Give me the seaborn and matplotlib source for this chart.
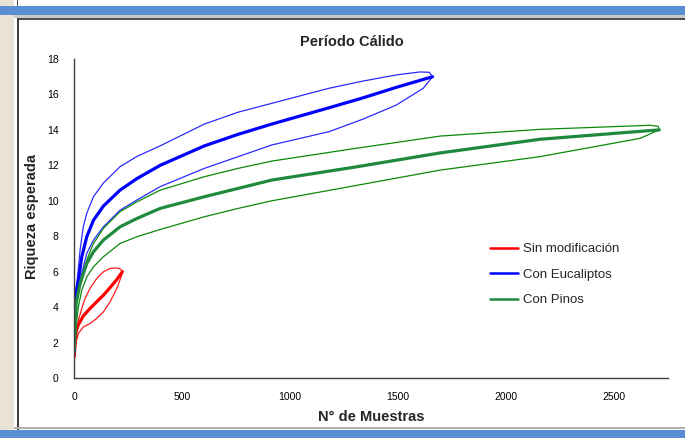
import matplotlib
matplotlib.use("Agg")
import matplotlib.pyplot as plt
from matplotlib.patches import Rectangle
from matplotlib.lines import Line2D
import pandas as pd
import seaborn as sns

# Sin modificación
sin_x = [1, 9, 20, 43, 74, 105, 136, 167, 198, 224]
sin_mean = [1.2, 2.6, 3.0, 3.5, 3.92, 4.3, 4.67, 5.1, 5.55, 6.0]
sin_up_x = [1, 5, 12, 20, 36, 51, 74, 105, 136, 167, 198, 215, 224]
sin_up = [1.3, 1.8, 2.6, 3.26, 3.92, 4.49, 5.05, 5.61, 5.99, 6.18, 6.21, 6.15, 6.0]
sin_lo_x = [1, 9, 20, 43, 74, 105, 136, 167, 198, 221, 224]
sin_lo = [1.2, 2.0, 2.5, 2.88, 3.07, 3.36, 3.73, 4.3, 5.05, 5.8, 6.0]

# Con Eucaliptos
euc_x = [1, 5, 20, 36, 59, 90, 136, 213, 291, 399, 604, 760, 916, 1181, 1336, 1492, 1660]
euc_mean = [1.5, 4.6, 5.5, 6.84, 7.97, 8.9, 9.7, 10.6, 11.25, 12.0, 13.1, 13.75, 14.33, 15.25, 15.8, 16.4, 17.0]
euc_up_x = [1, 9, 15, 28, 43, 59, 90, 136, 213, 291, 399, 604, 760, 916, 1181, 1336, 1492, 1601, 1645, 1660]
euc_up = [1.6, 4.8, 5.5, 7.2, 8.53, 9.29, 10.23, 11.0, 11.92, 12.5, 13.1, 14.33, 15.0, 15.5, 16.35, 16.75, 17.1, 17.27, 17.25, 17.0]
euc_lo_x = [1, 5, 15, 36, 59, 90, 136, 213, 291, 399, 604, 760, 916, 1181, 1336, 1492, 1617, 1660]
euc_lo = [1.4, 3.8, 4.77, 5.9, 7.03, 7.78, 8.53, 9.47, 10.04, 10.8, 11.83, 12.49, 13.15, 13.9, 14.6, 15.4, 16.35, 17.0]

# Con Pinos
pin_x = [1, 10, 28, 59, 90, 136, 213, 291, 399, 604, 760, 916, 1300, 1695, 2157, 2645, 2710]
pin_mean = [1.5, 4.2, 5.33, 6.46, 7.12, 7.78, 8.53, 9.0, 9.57, 10.23, 10.7, 11.17, 11.9, 12.7, 13.47, 13.94, 14.0]
pin_up_x = [1, 10, 36, 59, 90, 136, 213, 291, 399, 604, 760, 916, 1300, 1695, 2157, 2667, 2705, 2710]
pin_up = [1.7, 4.5, 5.5, 6.65, 7.59, 8.44, 9.38, 9.94, 10.6, 11.36, 11.83, 12.24, 12.95, 13.65, 14.03, 14.26, 14.2, 14.0]
pin_lo_x = [1, 9, 20, 36, 59, 90, 136, 213, 291, 399, 604, 760, 916, 1300, 1695, 2157, 2620, 2710]
pin_lo = [1.3, 2.9, 4.0, 4.95, 5.7, 6.27, 6.84, 7.59, 7.97, 8.38, 9.1, 9.57, 10.0, 10.85, 11.73, 12.49, 13.52, 14.0]

labels = ["Sin modificación", "Con Eucaliptos", "Con Pinos"]
x_ticks = [0, 500, 1000, 1500, 2000, 2500]
y_ticks = [0, 2, 4, 6, 8, 10, 12, 14, 16, 18]

sns.set_theme(style="white")
plt.rcParams['font.family'] = ['Liberation Sans', 'DejaVu Sans']

W, H = 685, 438
fig = plt.figure(figsize=(6.85, 4.38), dpi=100)
ax = fig.add_axes([74 / W, 60 / H, 594 / W, 319 / H])

series = [
    (sin_x, sin_mean, sin_up_x, sin_up, sin_lo_x, sin_lo, "#ff0000", "#ff1a1a"),
    (euc_x, euc_mean, euc_up_x, euc_up, euc_lo_x, euc_lo, "#0000ff", "#2a2aff"),
    (pin_x, pin_mean, pin_up_x, pin_up, pin_lo_x, pin_lo, "#1f8a3e", "#0a8a0a"),
]

for mx, my, ux, uy, lx, ly, c_mean, c_band in series:
    # confidence band drawn as one closed loop: upper out, lower back
    loop = pd.DataFrame({"x": ux + lx[::-1], "y": uy + ly[::-1]})
    sns.lineplot(data=loop, x="x", y="y", sort=False, estimator=None,
                 color=c_band, linewidth=0.9, ax=ax)
    mean_df = pd.DataFrame({"x": mx, "y": my})
    sns.lineplot(data=mean_df, x="x", y="y", sort=False, estimator=None,
                 color=c_mean, linewidth=2.3, ax=ax)

ax.set_xlim(0, 2750)
ax.set_ylim(0, 18)
ax.set_xticks(x_ticks)
ax.set_yticks(y_ticks)
ax.tick_params(axis="both", labelsize=7.5, colors="#000000", pad=7)
ax.tick_params(axis="x", direction="inout", length=6, width=0.8, color="#404040")
ax.tick_params(axis="y", direction="out", length=4, width=0.8, color="#404040")
for s in ["top", "right"]:
    ax.spines[s].set_visible(False)
for s in ["left", "bottom"]:
    ax.spines[s].set_color("#404040")
    ax.spines[s].set_linewidth(1.0)

fig.text(352 / W, 1 - 42 / H, "Período Cálido", fontsize=10.5, fontweight="bold",
         ha="center", va="center")
ax.set_xlabel("N° de Muestras", fontsize=10.5, fontweight="bold")
ax.set_ylabel("Riqueza esperada", fontsize=10.5, fontweight="bold")
ax.xaxis.set_label_coords(0.5, (378 - 417) / 319)
ax.yaxis.set_label_coords((32 - 74) / 594, 0.505)
ax.xaxis.label.set_va("center")
ax.yaxis.label.set_va("center")

handles = [Line2D([], [], color=c, linewidth=1.8) for c in ["#ff0000", "#0000ff", "#1f8a3e"]]
ax.legend(handles, labels, loc="upper left", bbox_to_anchor=(0.681, 0.46),
          frameon=False, fontsize=9.5, handlelength=2.1, handletextpad=0.38,
          labelspacing=1.0)

# screenshot frame around the chart
def frame_rect(x0, y0, w, h, color):
    fig.add_artist(Rectangle((x0 / W, 1 - (y0 + h) / H), w / W, h / H,
                             transform=fig.transFigure, color=color, lw=0, zorder=5))

frame_rect(0, 0, 14, H, "#ebe2d6")
frame_rect(17, 0, 1.2, 7, "#505050")
frame_rect(0, 6, W, 9, "#5a8fd4")
frame_rect(14, 15, W - 14, 3, "#c8c8c8")
frame_rect(17, 18, W - 17, 1.5, "#505050")
frame_rect(17, 18, 1.5, H - 18, "#404040")
frame_rect(14, 427, W - 14, 2, "#b0b0b0")
frame_rect(0, 430, W, 8, "#5a8fd4")

fig.savefig("out.png", dpi=100)
